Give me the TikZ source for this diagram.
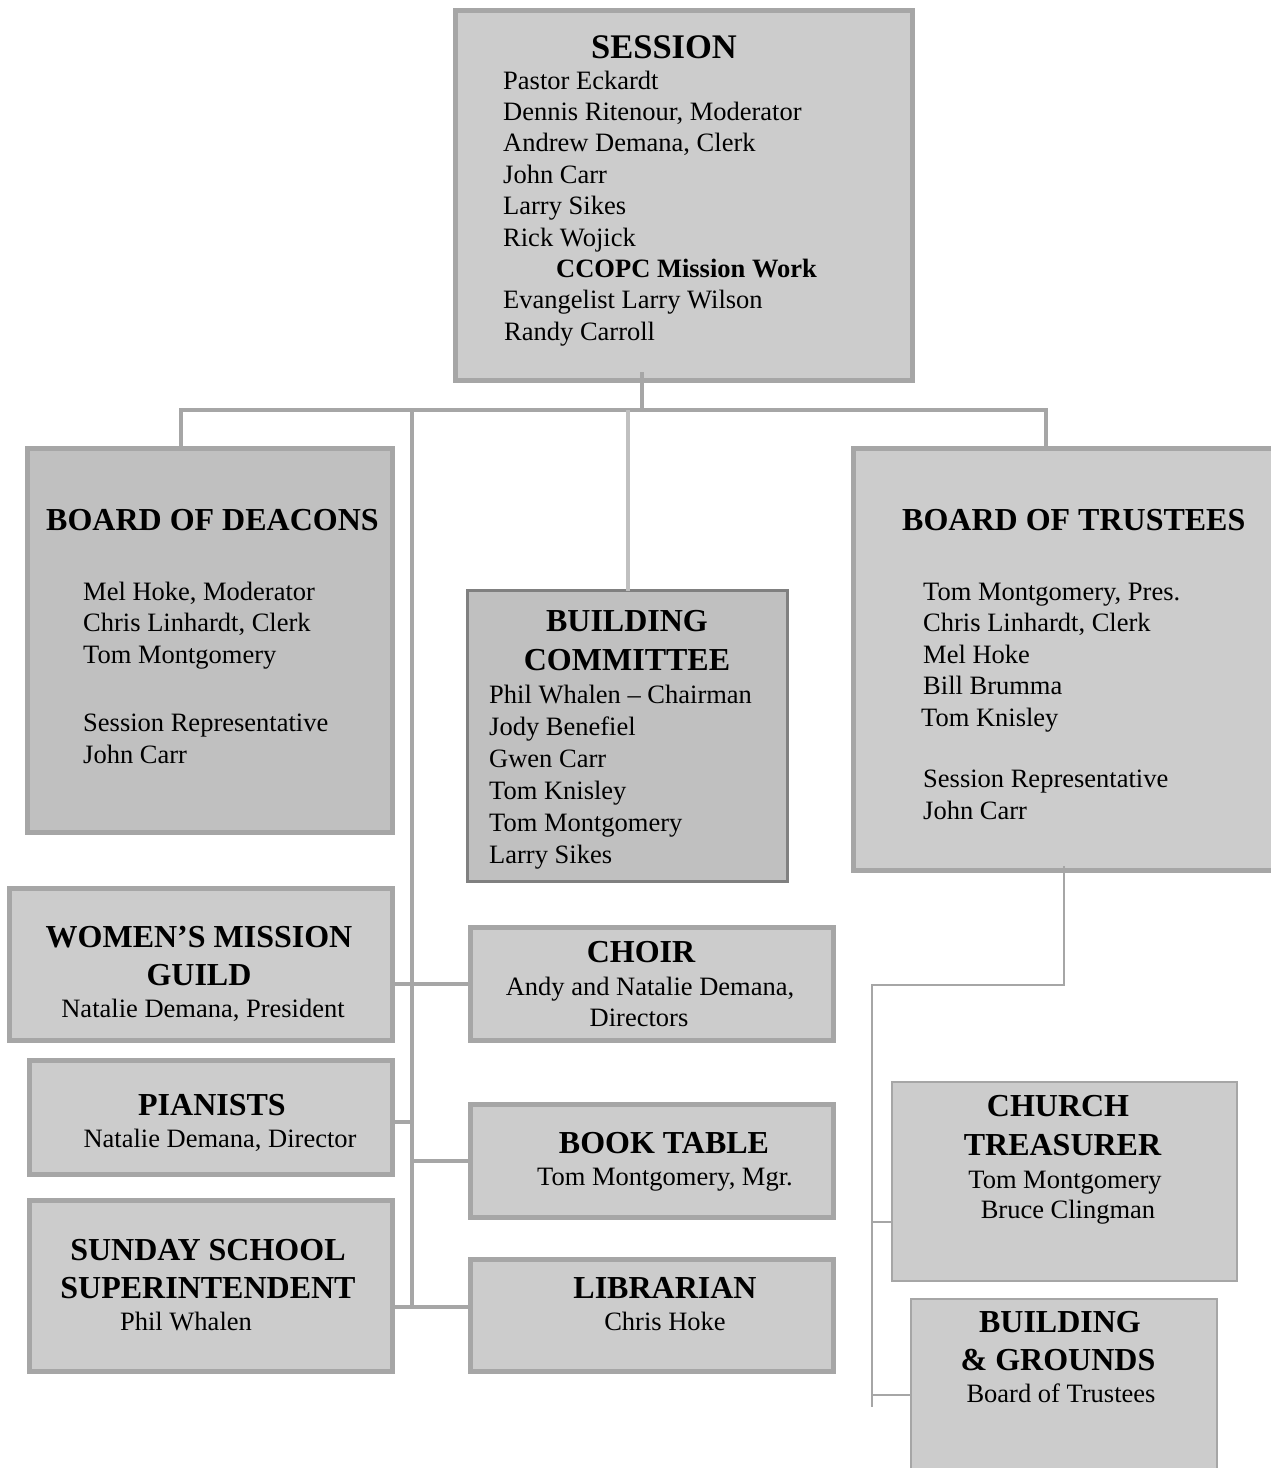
\documentclass[tikz,border=0pt]{standalone}
\usepackage{fontspec}
\setmainfont{Liberation Serif}
\definecolor{lightfill}{HTML}{CCCCCC}
\definecolor{darkfill}{HTML}{C0C0C0}
\definecolor{bordergray}{HTML}{A6A6A6}
\definecolor{bcborder}{HTML}{808080}
\definecolor{lightconn}{HTML}{C0C0C0}
\begin{document}
\begin{tikzpicture}[x=1pt,y=-1pt,
  box/.style={draw=bordergray, line width=5pt, fill=lightfill, inner sep=0pt, outer sep=0pt, rectangle},
  darkbox/.style={box, fill=darkfill},
  bcbox/.style={box, draw=bcborder, line width=3pt, fill=darkfill},
  thinbox/.style={box, line width=2pt},
  conn/.style={draw=bordergray, line width=4pt},
  lightconn/.style={draw=lightconn, line width=4pt},
  thinconn/.style={draw=bordergray, line width=2.5pt},
  body/.style={font=\fontsize{26.5}{31}\selectfont, inner sep=0pt},
  head/.style={font=\fontsize{32}{37}\selectfont\bfseries, inner sep=0pt},
  bighead/.style={font=\fontsize{34.5}{40}\selectfont\bfseries, inner sep=0pt}]
\useasboundingbox (0,0) rectangle (1270,1468);
\fill[white] (0,0) rectangle (1270,1468);

% ---------- boxes ----------
\node[box, minimum width=457pt, minimum height=370pt] (session) at (684,195.5) {};
\node[darkbox, minimum width=365pt, minimum height=384pt] (deacons) at (210,640.5) {};
\node[bcbox, minimum width=320pt, minimum height=291pt] (bcomm) at (627.5,736) {};
\node[box, minimum width=436.5pt, minimum height=422pt] (trustees) at (1071.75,659.5) {};
\node[box, minimum width=383pt, minimum height=152pt] (women) at (201,964.5) {};
\node[box, minimum width=363pt, minimum height=113pt] (choir) at (652,984) {};
\node[box, minimum width=363pt, minimum height=114pt] (pian) at (211,1117.5) {};
\node[box, minimum width=363pt, minimum height=113pt] (book) at (652,1161) {};
\node[box, minimum width=363pt, minimum height=171pt] (sunday) at (211,1286) {};
\node[box, minimum width=363pt, minimum height=112pt] (lib) at (652,1315.5) {};
\node[thinbox, minimum width=345pt, minimum height=199pt] (treas) at (1064.5,1181.5) {};
\node[thinbox, minimum width=306pt, minimum height=180pt] (bg) at (1064,1389) {};

% ---------- connectors ----------
\coordinate (sdrop) at (642,372);
\coordinate (busL) at (181,410);
\coordinate (busR) at (1046,410);
\coordinate (trunktop) at (412,410);
\coordinate (trunkbot) at (412,1307);
\coordinate (pj) at (412,1122);
\draw[conn] (sdrop) -- (sdrop |- busL);
\draw[conn] (busL |- deacons.north) -- (busL) -- (busR) -- (busR |- trustees.north);
\draw[lightconn] (bcomm.north |- busL) -- (bcomm.north);
\draw[conn] (trunktop) -- (trunkbot);
\draw[conn] (women.east |- choir.west) -- (choir.west);
\draw[conn] (pian.east |- pj) -- (pj);
\draw[conn] (book.west -| trunktop) -- (book.west);
\draw[conn] (sunday.east |- trunkbot) -- (lib.west |- trunkbot);

\coordinate (tdrop) at (1064,866);
\coordinate (tbend) at (872,985);
\coordinate (tend) at (872,1407);
\coordinate (tj1) at (872,1222);
\coordinate (tj2) at (872,1395);
\draw[thinconn] (tdrop) |- (tbend) -- (tend);
\draw[thinconn] (tj1) -- (tj1 -| treas.west);
\draw[thinconn] (tj2) -- (tj2 -| bg.west);

% ---------- session text ----------
\node[bighead, anchor=base] (sesT) at (664,58.3) {SESSION};
\foreach \t [count=\i from 0] in {Pastor Eckardt, {Dennis Ritenour, Moderator}, {Andrew Demana, Clerk}, John Carr, Larry Sikes, Rick Wojick}
  \node[body, anchor=base west] (ses\i) at (503,{89+31.4*\i}) {\t};
\node[body, anchor=base west, font=\fontsize{26.5}{31}\selectfont\bfseries] (sesM) at (556,277.4) {CCOPC Mission Work};
\node[body, anchor=base west] (ses7) at (503,308.8) {Evangelist Larry Wilson};
\node[body, anchor=base west] (ses8) at (504,340.2) {Randy Carroll};

% ---------- deacons ----------
\node[head, anchor=base west] (deaT) at (46,530) {BOARD OF DEACONS};
\node[body, anchor=base west] (dea1) at (83,600) {Mel Hoke, Moderator};
\node[body, anchor=base west] (dea2) at (83,631.5) {Chris Linhardt, Clerk};
\node[body, anchor=base west] (dea3) at (83,663) {Tom Montgomery};
\node[body, anchor=base west] (dea4) at (83,731.7) {Session Representative};
\node[body, anchor=base west] (dea5) at (83,763.3) {John Carr};

% ---------- building committee ----------
\node[head, anchor=base] (bcT1) at (627,631.7) {BUILDING};
\node[head, anchor=base] (bcT2) at (627,670) {COMMITTEE};
\foreach \t [count=\i from 0] in {Phil Whalen – Chairman, Jody Benefiel, Gwen Carr, Tom Knisley, Tom Montgomery, Larry Sikes}
  \node[body, anchor=base west] (bc\i) at (489,{703.3+32*\i}) {\t};

% ---------- trustees ----------
\node[head, anchor=base west] (truT) at (902,530) {BOARD OF TRUSTEES};
\node[body, anchor=base west] (tru1) at (923,600) {Tom Montgomery, Pres.};
\node[body, anchor=base west] (tru2) at (923,631.5) {Chris Linhardt, Clerk};
\node[body, anchor=base west] (tru3) at (923,663) {Mel Hoke};
\node[body, anchor=base west] (tru4) at (923,694.5) {Bill Brumma};
\node[body, anchor=base west] (tru5) at (921,726) {Tom Knisley};
\node[body, anchor=base west] (tru6) at (923,787.5) {Session Representative};
\node[body, anchor=base west] (tru7) at (923,819) {John Carr};

% ---------- lower left / centre ----------
\node[head, anchor=base] (woT1) at (199,947.7) {WOMEN’S MISSION};
\node[head, anchor=base] (woT2) at (199,985) {GUILD};
\node[body, anchor=base] (wo1) at (203,1017) {Natalie Demana, President};

\node[head, anchor=base] (chT) at (641,962.7) {CHOIR};
\node[body, anchor=base] (ch1) at (650,995) {Andy and Natalie Demana,};
\node[body, anchor=base] (ch2) at (639,1026.7) {Directors};

\node[head, anchor=base] (piT) at (212,1115.7) {PIANISTS};
\node[body, anchor=base] (pi1) at (220,1147.7) {Natalie Demana, Director};

\node[head, anchor=base] (boT) at (664,1153.3) {BOOK TABLE};
\node[body, anchor=base] (bo1) at (665,1185) {Tom Montgomery, Mgr.};

\node[head, anchor=base] (suT1) at (208,1260) {SUNDAY SCHOOL};
\node[head, anchor=base] (suT2) at (208,1298.3) {SUPERINTENDENT};
\node[body, anchor=base] (su1) at (186,1330.7) {Phil Whalen};

\node[head, anchor=base] (liT) at (665,1298.3) {LIBRARIAN};
\node[body, anchor=base] (li1) at (665,1330.7) {Chris Hoke};

% ---------- lower right ----------
\node[head, anchor=base] (trT1) at (1058,1116) {CHURCH};
\node[head, anchor=base] (trT2) at (1062.5,1155) {TREASURER};
\node[body, anchor=base] (tr1) at (1065,1188.7) {Tom Montgomery};
\node[body, anchor=base] (tr2) at (1068,1218.5) {Bruce Clingman};

\node[head, anchor=base] (bgT1) at (1060,1332.6) {BUILDING};
\node[head, anchor=base] (bgT2) at (1058,1370) {\& GROUNDS};
\node[body, anchor=base] (bg1) at (1061,1402.7) {Board of Trustees};
\end{tikzpicture}
\end{document}
